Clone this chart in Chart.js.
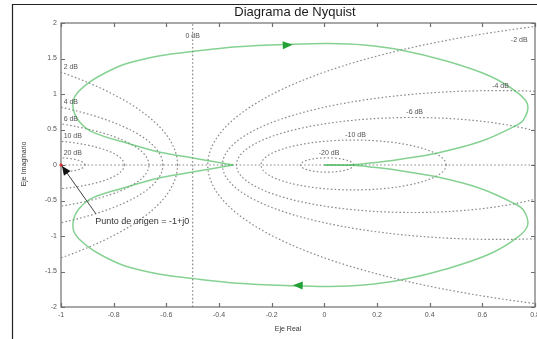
<!DOCTYPE html>
<html>
<head>
<meta charset="utf-8">
<title>Diagrama de Nyquist</title>
<script src="https://cdn.jsdelivr.net/npm/chart.js@4.4.0/dist/chart.umd.min.js"></script>
<style>
html,body{margin:0;padding:0;background:#fff;}
#wrap{position:relative;width:537px;height:339px;}
</style>
</head>
<body>
<div id="wrap"><canvas id="nyq" width="537" height="339"></canvas></div>
<script>
const xTicks = [-1, -0.8, -0.6, -0.4, -0.2, 0, 0.2, 0.4, 0.6, 0.8];
const yTicks = [2, 1.5, 1, 0.5, 0, -0.5, -1, -1.5, -2];
const gridDb = [20, 10, 6, 4, 2, -2, -4, -6, -10, -20];

// upper half of the locus: from the cusp on the real axis, round the loop, into the origin
const upperRe = [-0.346, -0.50, -0.624, -0.75, -0.878, -0.93, -0.954, -0.945, -0.89, -0.82, -0.75, -0.624, -0.50, -0.33, -0.12, 0.02, 0.15, 0.29, 0.467, 0.63, 0.733, 0.772, 0.757, 0.72, 0.593, 0.43, 0.277, 0.18, 0.11, 0.0];
const upperIm = [0, 0.10, 0.18, 0.31, 0.46, 0.61, 0.80, 0.98, 1.17, 1.32, 1.43, 1.54, 1.60, 1.665, 1.70, 1.71, 1.69, 1.62, 1.46, 1.25, 1.02, 0.85, 0.64, 0.54, 0.33, 0.17, 0.075, 0.03, 0.005, 0];
const arrowRe = -0.12;

const FONT = 'Liberation Sans, Arial, sans-serif';
const xMin = -1, xMax = 0.8, yMin = -2, yMax = 2;

// lower half is the mirror image (negative frequencies)
const upperPts = upperRe.map((re, i) => ({x: re, y: upperIm[i]}));
const lowerPts = upperRe.map((re, i) => ({x: re, y: -upperIm[i]}));

// constant closed-loop magnitude circles
function mCircle(db) {
    const m = Math.pow(10, db / 20);
    const m2 = m * m;
    return {c: -m2 / (m2 - 1), r: Math.abs(m / (m2 - 1))};
}
const gridSets = gridDb.map(db => {
    const {c, r} = mCircle(db);
    const pts = [];
    for (let a = 0; a <= 360; a += 1) {
        const t = a * Math.PI / 180;
        pts.push({x: c + r * Math.cos(t), y: r * Math.sin(t)});
    }
    return pts;
});

const dotted = {showLine: true, pointRadius: 0, borderColor: '#8a8a8a', borderWidth: 1.2, borderDash: [1.6, 2.2], order: 2};
const datasets = gridSets.map(pts => Object.assign({data: pts}, dotted));
datasets.push(Object.assign({data: [{x: -0.5, y: yMin}, {x: -0.5, y: yMax}]}, dotted));
datasets.push(Object.assign({data: [{x: xMin, y: 0}, {x: xMax, y: 0}]}, dotted));
const curveStyle = {showLine: true, pointRadius: 0, borderColor: 'rgba(70,185,90,0.66)', borderWidth: 1.5, tension: 0.35, order: 0};
datasets.push(Object.assign({data: upperPts}, curveStyle));
datasets.push(Object.assign({data: lowerPts}, curveStyle));

function arrowHead(ctx, x0, y0, x1, y1, len, half, color) {
    const ang = Math.atan2(y1 - y0, x1 - x0);
    ctx.save();
    ctx.translate(x1, y1);
    ctx.rotate(ang);
    ctx.fillStyle = color;
    ctx.beginPath();
    ctx.moveTo(0, 0);
    ctx.lineTo(-len, -half);
    ctx.lineTo(-len, half);
    ctx.closePath();
    ctx.fill();
    ctx.restore();
}

const decor = {
    id: 'decor',
    beforeDraw(chart) {
        const ctx = chart.ctx;
        ctx.save();
        ctx.fillStyle = '#fff';
        ctx.fillRect(0, 0, chart.width, chart.height);
        // outer frame
        ctx.strokeStyle = '#222';
        ctx.lineWidth = 1.2;
        ctx.beginPath();
        ctx.moveTo(12.5, chart.height);
        ctx.lineTo(12.5, 4.5);
        ctx.lineTo(chart.width, 4.5);
        ctx.stroke();
        ctx.restore();
    },
    afterDraw(chart) {
        const ctx = chart.ctx;
        const xs = chart.scales.x, ys = chart.scales.y;
        const a = chart.chartArea;
        const px = v => xs.getPixelForValue(v);
        const py = v => ys.getPixelForValue(v);
        ctx.save();

        // axes box and inward ticks
        ctx.strokeStyle = '#6e6e6e';
        ctx.lineWidth = 1.2;
        ctx.strokeRect(a.left, a.top, a.right - a.left, a.bottom - a.top);
        ctx.beginPath();
        xTicks.forEach(v => {
            const x = Math.round(px(v)) + 0.5;
            ctx.moveTo(x, a.bottom); ctx.lineTo(x, a.bottom - 4);
            ctx.moveTo(x, a.top); ctx.lineTo(x, a.top + 4);
        });
        yTicks.forEach(v => {
            const y = Math.round(py(v)) + 0.5;
            ctx.moveTo(a.left, y); ctx.lineTo(a.left + 4, y);
            ctx.moveTo(a.right, y); ctx.lineTo(a.right - 4, y);
        });
        ctx.stroke();

        // dB labels on the grid
        ctx.font = '7px ' + FONT;
        ctx.fillStyle = '#555';
        ctx.textBaseline = 'middle';
        gridDb.forEach(db => {
            const {c, r} = mCircle(db);
            const txt = db + ' dB';
            if (db > 0) {
                const yy = Math.sqrt(r * r - (xMin - c) * (xMin - c));
                ctx.textAlign = 'left';
                ctx.fillText(txt, px(-0.99), py(yy) - 5);
            } else if (c < xMax) {
                ctx.textAlign = 'center';
                ctx.fillText(txt, px(c) + 2, py(r) - 5);
            } else {
                const lx = xMax - 0.06;
                const yy = Math.sqrt(r * r - (lx - c) * (lx - c));
                ctx.textAlign = 'center';
                ctx.fillText(txt, px(lx), py(yy) + 11);
            }
        });
        ctx.textAlign = 'center';
        ctx.fillText('0 dB', px(-0.5), py(1.82));

        // direction arrows on the locus
        const k = upperRe.indexOf(arrowRe);
        const green = 'rgb(35,160,55)';
        arrowHead(ctx, px(upperRe[k - 1]), py(upperIm[k - 1]), px(upperRe[k]), py(upperIm[k]) + 0.5, 10, 4, green);
        arrowHead(ctx, px(upperRe[k + 1]), py(-upperIm[k + 1]), px(upperRe[k]), py(-upperIm[k]) - 0.5, 10, 4, green);

        // critical point -1+j0 and its note
        const cx = px(-1), cy = py(0);
        ctx.strokeStyle = '#e02020';
        ctx.lineWidth = 1;
        ctx.beginPath();
        ctx.moveTo(cx - 2, cy); ctx.lineTo(cx + 2, cy);
        ctx.moveTo(cx, cy - 2); ctx.lineTo(cx, cy + 2);
        ctx.stroke();
        const sx = px(-0.867), sy = py(-0.69);
        ctx.strokeStyle = '#444';
        ctx.beginPath();
        ctx.moveTo(sx, sy);
        ctx.lineTo(cx + 1, cy + 1);
        ctx.stroke();
        arrowHead(ctx, sx, sy, cx + 1, cy + 1, 9, 4, '#111');
        ctx.font = '9px ' + FONT;
        ctx.fillStyle = '#333';
        ctx.textAlign = 'left';
        ctx.fillText('Punto de origen = -1+j0', px(-0.87), py(-0.8));

        // titles
        ctx.fillStyle = '#1a1a1a';
        ctx.font = '13px ' + FONT;
        ctx.textAlign = 'center';
        ctx.fillText('Diagrama de Nyquist', 295, 12);
        ctx.font = '7px ' + FONT;
        ctx.fillStyle = '#333';
        ctx.fillText('Eje Real', 288, 329);
        ctx.translate(24, 164);
        ctx.rotate(-Math.PI / 2);
        ctx.fillText('Eje Imaginario', 0, 0);
        ctx.restore();
    }
};

new Chart(document.getElementById('nyq'), {
    type: 'scatter',
    data: {datasets: datasets},
    options: {
        responsive: false,
        animation: false,
        events: [],
        devicePixelRatio: 1,
        layout: {padding: {top: 23, right: 2, left: 0, bottom: 0}},
        plugins: {legend: {display: false}, tooltip: {enabled: false}, title: {display: false}},
        scales: {
            x: {
                type: 'linear', min: xMin, max: xMax,
                grid: {display: false, drawTicks: false},
                border: {display: false},
                afterBuildTicks: s => { s.ticks = xTicks.map(v => ({value: v})); },
                afterFit: s => { s.height = 32; s.paddingLeft = 0; s.paddingRight = 0; },
                ticks: {font: {size: 7, family: FONT}, color: '#555', padding: 4, maxRotation: 0, autoSkip: false, callback: v => String(v)}
            },
            y: {
                type: 'linear', min: yMin, max: yMax,
                grid: {display: false, drawTicks: false},
                border: {display: false},
                afterBuildTicks: s => { s.ticks = yTicks.map(v => ({value: v})); },
                afterFit: s => { s.width = 61; s.paddingTop = 0; s.paddingBottom = 0; },
                ticks: {font: {size: 7, family: FONT}, color: '#555', padding: 4, autoSkip: false, callback: v => String(v)}
            }
        }
    },
    plugins: [decor]
});
</script>
</body>
</html>
